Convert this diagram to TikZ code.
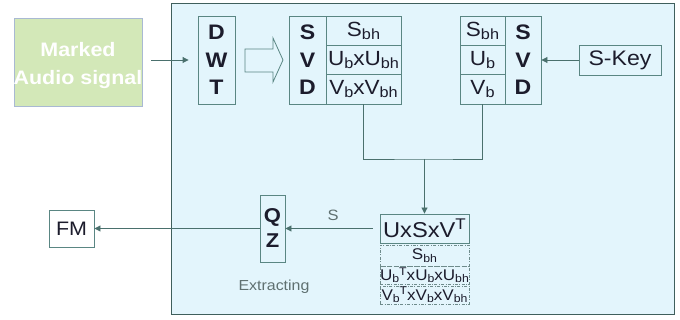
\documentclass[tikz,border=0pt]{standalone}
\usepackage{fontspec}
\setmainfont{Liberation Sans}[FakeStretch=1.1]
\usepackage{graphicx}
\usetikzlibrary{arrows.meta}
\definecolor{panelfill}{HTML}{E3F5FC}
\definecolor{panelline}{HTML}{3F5F5C}
\definecolor{boxc}{HTML}{5A8683}
\definecolor{linec}{HTML}{4A706D}
\definecolor{txt}{HTML}{1C1C2C}
\definecolor{greytxt}{HTML}{5F7070}
\definecolor{greenfill}{HTML}{D3E8B8}
\definecolor{greenline}{HTML}{A9B9D3}
\definecolor{dashc}{HTML}{6E8B8B}
\newcommand{\fsz}[2]{\fontsize{#1}{#2}\selectfont}
\newcommand{\subx}[1]{\raisebox{-0.15em}{\scalebox{0.72}{#1}}}
\newcommand{\supx}[1]{\raisebox{0.35em}{\scalebox{0.72}{#1}}}
\begin{document}
\begin{tikzpicture}[x=1pt,y=-1pt,
  box/.style={draw=boxc, line width=0.9pt, inner sep=0pt, text=txt, align=center, fill=panelfill},
  dbox/.style={draw=dashc, line width=0.7pt, dash pattern=on 3pt off 1.5pt on 0.8pt off 1.5pt, inner sep=0pt, text=txt, align=center, minimum width=89pt, font=\fsz{15.5}{15.5}},
  conn/.style={draw=linec, line width=0.9pt},
  arr/.style={conn, -{Triangle[length=6pt,width=6pt]}},
  cell/.style={box, font=\fsz{20.5}{20.5}},
  bold3/.style={box, font=\bfseries\fsz{21}{27.5}}
]
\useasboundingbox (0,0) rectangle (680,320);
% panel
\node[draw=panelline, fill=panelfill, line width=1pt, minimum width=503pt, minimum height=311pt, inner sep=0pt] (panel) at (422.5,159.5) {};
% input
\node[draw=greenline, fill=greenfill, line width=0.6pt, minimum width=128pt, minimum height=88pt, inner sep=0pt] (audio) at (78,62) {};
\node[text=white, align=center, inner sep=0pt, font=\bfseries\fsz{19.5}{28}] (audiotxt) at ([yshift=-4pt]audio.center) {Marked\\Audio signal};
% DWT
\node[bold3, minimum width=37pt, minimum height=88pt] (dwt) at (216.5,60) {D\\W\\T};
% block arrow
\draw[draw=boxc, fill=panelfill, line width=0.8pt, line join=miter] (245,49) -- (273,49) -- (273,38) -- (283,60) -- (273,82) -- (273,72) -- (245,72) -- cycle;
% left SVD
\node[bold3, minimum width=37pt, minimum height=88pt] (svdL) at (307.5,60) {S\\V\\D};
\node[cell, minimum width=75pt, minimum height=29.33pt] (cL1) at (363.5,30.67) {S\subx{bh}};
\node[cell, minimum width=75pt, minimum height=29.33pt] (cL2) at (363.5,60) {U\subx{b}xU\subx{bh}};
\node[cell, minimum width=75pt, minimum height=29.33pt] (cL3) at (363.5,89.33) {V\subx{b}xV\subx{bh}};
% right SVD
\node[cell, minimum width=45pt, minimum height=29.33pt] (cR1) at (482.5,30.67) {S\subx{bh}};
\node[cell, minimum width=45pt, minimum height=29.33pt] (cR2) at (482.5,60) {U\subx{b}};
\node[cell, minimum width=45pt, minimum height=29.33pt] (cR3) at (482.5,89.33) {V\subx{b}};
\node[bold3, minimum width=36pt, minimum height=88pt] (svdR) at (523,60) {S\\V\\D};
% S-Key
\node[cell, minimum width=82pt, minimum height=30pt, font=\fsz{21}{21}] (skey) at (620,60) {S-Key};
% UxSxV^T
\node[cell, minimum width=89pt, minimum height=29pt, font=\fsz{21.5}{21.5}] (usv) at (424.5,228.5) {UxSxV\supx{T}};
\node[dbox, minimum height=21pt] (d1) at (424.5,255.5) {S\subx{bh}};
\node[dbox, minimum height=18pt] (d2) at (424.5,275.2) {U\subx{b}\supx{T}xU\subx{b}xU\subx{bh}};
\node[dbox, minimum height=18pt] (d3) at (424.5,295) {V\subx{b}\supx{T}xV\subx{b}xV\subx{bh}};
% QZ
\node[box, font=\bfseries\fsz{20}{25}, minimum width=25pt, minimum height=67pt] (qz) at (272.5,228.5) {Q\\Z};
% FM
\node[box, fill=white, font=\fsz{19.5}{19.5}, minimum width=45pt, minimum height=37pt] (fm) at (71.5,228.5) {FM};
% labels
\node[text=greytxt, font=\fsz{15}{15}, inner sep=0pt] (slab) at (333,215) {S};
\node[text=greytxt, font=\fsz{14.5}{14.5}, inner sep=0pt] (extr) at (274,287) {Extracting};
% connectors
\coordinate (j) at (424.5,159);
\draw[arr, shorten <=9pt, shorten >=9pt] (audio.east |- dwt.west) -- (dwt.west);
\draw[arr] (skey.west) -- (svdR.east);
\draw[conn] (cL3.south) |- (j) -| (cR3.south);
\draw[arr] (j) -- (usv.north);
\draw[arr, shorten <=7pt] (usv.west) -- (qz.east);
\draw[arr] (qz.west) -- (fm.east);
\end{tikzpicture}
\end{document}
